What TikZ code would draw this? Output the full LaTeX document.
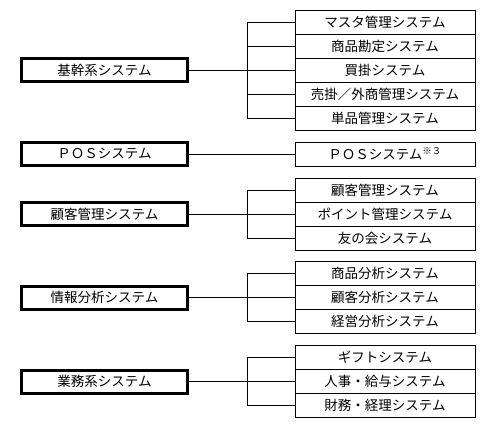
\documentclass[tikz,border=0pt]{standalone}
\usepackage{fontspec}
\newfontfamily\jp{Noto Sans CJK JP}
\usetikzlibrary{positioning}

\begin{document}
\begin{tikzpicture}[x=1pt,y=-1pt,
    mainbox/.style={rectangle,draw,line width=3pt,minimum width=166pt,minimum height=23pt,
                    inner sep=0pt,font=\jp\fontsize{13.5}{15}\selectfont},
    subbox/.style={rectangle,draw,line width=0.8pt,minimum width=180pt,minimum height=24pt,
                   inner sep=0pt,outer sep=0pt,font=\jp\fontsize{13.5}{15}\selectfont},
    link/.style={line width=0.8pt}
]
\useasboundingbox[fill=white] (0,0) rectangle (497,425);

% Group 1: core systems
\node[mainbox] (core) at (104.5,70) {基幹系システム};
\node[subbox] (core1) at (385,22) {マスタ管理システム};
\node[subbox,below=0pt of core1] (core2) {商品勘定システム};
\node[subbox,below=0pt of core2] (core3) {買掛システム};
\node[subbox,below=0pt of core3] (core4) {売掛／外商管理システム};
\node[subbox,below=0pt of core4] (core5) {単品管理システム};
\coordinate[left=48pt of core1.west] (corebr);

% Group 2: POS
\node[mainbox] (pos) at (104.5,154) {ＰＯＳシステム};
\node[subbox] (pos1) at (385,154) {ＰＯＳシステム\textsuperscript{※３}};

% Group 3: customer management
\node[mainbox] (cust) at (104.5,214) {顧客管理システム};
\node[subbox] (cust1) at (385,190) {顧客管理システム};
\node[subbox,below=0pt of cust1] (cust2) {ポイント管理システム};
\node[subbox,below=0pt of cust2] (cust3) {友の会システム};
\coordinate[left=48pt of cust1.west] (custbr);

% Group 4: information analysis
\node[mainbox] (info) at (104.5,297.5) {情報分析システム};
\node[subbox] (info1) at (385,273.5) {商品分析システム};
\node[subbox,below=0pt of info1] (info2) {顧客分析システム};
\node[subbox,below=0pt of info2] (info3) {経営分析システム};
\coordinate[left=48pt of info1.west] (infobr);

% Group 5: business systems
\node[mainbox] (biz) at (104.5,381.5) {業務系システム};
\node[subbox] (biz1) at (385,357.5) {ギフトシステム};
\node[subbox,below=0pt of biz1] (biz2) {人事・給与システム};
\node[subbox,below=0pt of biz2] (biz3) {財務・経理システム};
\coordinate[left=48pt of biz1.west] (bizbr);

% Connectors
\draw[link] (core.east) -- (core3.west);
\draw[link] (core1.west) -- (corebr) |- (core5.west);
\draw[link] (corebr |- core2.west) -- (core2.west);
\draw[link] (corebr |- core4.west) -- (core4.west);

\draw[link] (pos.east) -- (pos1.west);

\draw[link] (cust.east) -- (cust2.west);
\draw[link] (cust1.west) -- (custbr) |- (cust3.west);

\draw[link] (info.east) -- (info2.west);
\draw[link] (info1.west) -- (infobr) |- (info3.west);

\draw[link] (biz.east) -- (biz2.west);
\draw[link] (biz1.west) -- (bizbr) |- (biz3.west);

\end{tikzpicture}
\end{document}
